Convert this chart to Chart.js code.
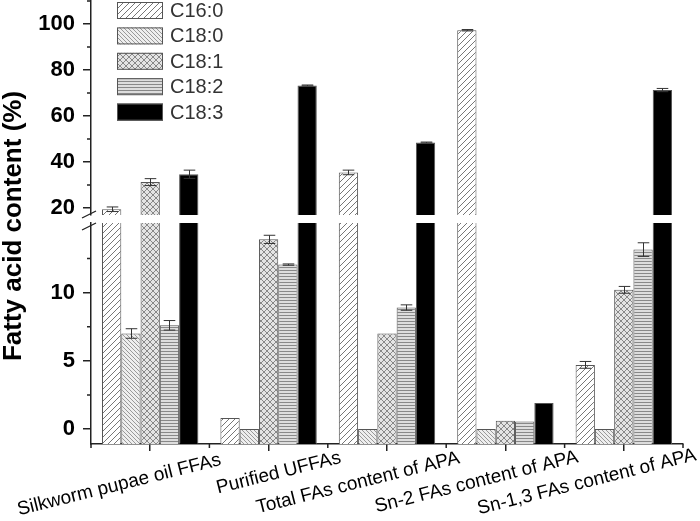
<!DOCTYPE html>
<html><head><meta charset="utf-8">
<script src="https://cdn.jsdelivr.net/npm/chart.js@4/dist/chart.umd.min.js"></script>
<style>html,body{margin:0;padding:0;background:#fff;} canvas{display:block;}</style>
</head><body>
<canvas id="c" width="700" height="521"></canvas>
<script>
// ---- data ----
const categories = ['Silkworm pupae oil FFAs','Purified UFFAs','Total FAs content of APA','Sn-2 FAs content of APA','Sn-1,3 FAs content of APA'];
const seriesNames = ['C16:0','C18:0','C18:1','C18:2','C18:3'];
const c160 = [19.5, 0.8, 35.5, 97.3, 4.7];
const c180 = [7.0, 0, 0, 0, 0];
const c181 = [31.3, 13.9, 7.0, 0.6, 10.2];
const c182 = [7.6, 12.05, 8.9, 0.55, 13.15];
const c183 = [34.7, 73.3, 48.5, 1.9, 71.3];
const c160Err = [1.0, 0, 1.0, 0.3, 0.25];
const c180Err = [0.35, 0, 0, 0, 0];
const c181Err = [1.5, 0.3, 0, 0, 0.25];
const c182Err = [0.35, 0.05, 0.2, 0, 0.5];
const c183Err = [1.8, 0.2, 0.2, 0, 0.7];
const yUpperTicks = [20, 40, 60, 80, 100];
const yUpperMinorTicks = [30, 50, 70, 90, 110];
const yLowerTicks = [0, 5, 10];
const yLowerMinorTicks = [2.5, 7.5, 12.5];
const yUpperRange = [17, 110];
const yLowerRange = [-1.1, 15.1];
const yTitle = 'Fatty acid content (%)';

const seriesData = [c160, c180, c181, c182, c183];
const seriesErr = [c160Err, c180Err, c181Err, c182Err, c183Err];

// ---- styles ----
const FONT = '"Liberation Sans", Arial, sans-serif';
Chart.defaults.font.family = FONT;
Chart.defaults.color = '#000';
const AXIS = '#222';

function makePattern(w, h, bg, draw) {
  const cv = document.createElement('canvas'); cv.width = w; cv.height = h;
  const g = cv.getContext('2d');
  g.fillStyle = bg; g.fillRect(0, 0, w, h);
  if (draw) draw(g, w, h);
  return g.createPattern(cv, 'repeat');
}
function diag(g, s, dir, color) {
  g.strokeStyle = color; g.lineWidth = 1; g.beginPath();
  for (let k = -1; k <= 1; k++) {
    if (dir === '/') { g.moveTo(k * s, s); g.lineTo(k * s + s, 0); }
    else { g.moveTo(k * s, 0); g.lineTo(k * s + s, s); }
  }
  g.stroke();
}
const fills = [
  makePattern(6, 6, '#ffffff', (g) => diag(g, 6, '/', '#777')),
  makePattern(4, 4, '#eeeeee', (g) => diag(g, 4, '\\', '#999')),
  makePattern(6, 6, '#e4e4e4', (g) => { diag(g, 6, '/', '#888'); diag(g, 6, '\\', '#888'); }),
  makePattern(4, 3, '#dddddd', (g) => { g.fillStyle = '#888'; g.fillRect(0, 0, 4, 1); }),
  '#000000'
];

const datasets = [];
seriesNames.forEach((name, s) => {
  ['yUpper', 'yLower'].forEach(axis => {
    datasets.push({
      label: name, data: seriesData[s], yAxisID: axis, stack: name,
      backgroundColor: fills[s], borderColor: '#555', borderWidth: 1,
      base: yLowerRange[0], categoryPercentage: 0.814, barPercentage: 1
    });
  });
});

function fixFit(s) {
  s.width = 64;
  s.paddingTop = 0; s.paddingBottom = 0; s.paddingLeft = 0; s.paddingRight = 0;
}

const clipPlugin = {
  id: 'segClip',
  beforeDatasetDraw(chart, args) {
    const ys = args.meta.yScale, ca = chart.chartArea, ctx = chart.ctx;
    ctx.save(); ctx.beginPath();
    ctx.rect(ca.left, ys.top, ca.right - ca.left, ys.bottom - ys.top);
    ctx.clip();
  },
  afterDatasetDraw(chart) { chart.ctx.restore(); }
};

const xLabelOffsets = [[-31, 41], [10, 29], [-29, 39], [-29, 38], [-37, 38]];
const xLabelAngle = 14;

const decoPlugin = {
  id: 'deco',
  afterDatasetsDraw(chart) {
    const ctx = chart.ctx, up = chart.scales.yUpper, lo = chart.scales.yLower;
    ctx.save();
    ctx.strokeStyle = '#333'; ctx.lineWidth = 1;
    seriesData.forEach((vals, s) => {
      vals.forEach((v, i) => {
        const e = seriesErr[s][i]; if (!e) return;
        const useUp = v >= yUpperRange[0];
        const sc = useUp ? up : lo;
        const bar = chart.getDatasetMeta(s * 2 + (useUp ? 0 : 1)).data[i];
        const x = Math.round(bar.x) + 0.5;
        const y1 = sc.getPixelForValue(v + e), y2 = sc.getPixelForValue(v - e);
        const cap = bar.width * 0.3;
        ctx.beginPath();
        ctx.moveTo(x, y1); ctx.lineTo(x, y2);
        ctx.moveTo(x - cap, y1); ctx.lineTo(x + cap, y1);
        ctx.moveTo(x - cap, y2); ctx.lineTo(x + cap, y2);
        ctx.stroke();
      });
    });
    ctx.restore();
  },
  afterDraw(chart) {
    const ctx = chart.ctx, ca = chart.chartArea;
    const up = chart.scales.yUpper, lo = chart.scales.yLower, xs = chart.scales.x;
    ctx.save();
    // minor y ticks
    ctx.strokeStyle = AXIS; ctx.lineWidth = 1.5;
    ctx.beginPath();
    yUpperMinorTicks.forEach(v => { const y = up.getPixelForValue(v); ctx.moveTo(ca.left - 4, y); ctx.lineTo(ca.left, y); });
    yLowerMinorTicks.forEach(v => { const y = lo.getPixelForValue(v); ctx.moveTo(ca.left - 4, y); ctx.lineTo(ca.left, y); });
    // x boundary ticks
    for (let i = 0; i <= categories.length; i++) {
      const x = xs.getPixelForValue(i - 0.5);
      ctx.moveTo(x, ca.bottom); ctx.lineTo(x, ca.bottom + 4);
    }
    ctx.stroke();
    // break marks
    ctx.lineWidth = 1.3;
    ctx.beginPath();
    ctx.moveTo(ca.left - 9, up.bottom + 3); ctx.lineTo(ca.left + 5, up.bottom - 4);
    ctx.moveTo(ca.left - 9, lo.top + 7); ctx.lineTo(ca.left + 5, lo.top);
    ctx.stroke();
    // x labels
    ctx.fillStyle = '#000';
    ctx.font = '19px ' + FONT;
    ctx.textAlign = 'center'; ctx.textBaseline = 'middle';
    categories.forEach((lab, i) => {
      const x = xs.getPixelForValue(i) + xLabelOffsets[i][0];
      const y = ca.bottom + xLabelOffsets[i][1];
      ctx.save(); ctx.translate(x, y); ctx.rotate(-xLabelAngle * Math.PI / 180);
      ctx.fillText(lab, 0, 0); ctx.restore();
    });
    // legend
    ctx.textAlign = 'left';
    ctx.font = '20px ' + FONT;
    seriesNames.forEach((name, s) => {
      const bx = ca.left + 26, by = ca.top + 1 + s * 25.4;
      ctx.fillStyle = fills[s]; ctx.fillRect(bx, by, 46, 17);
      ctx.strokeStyle = '#555'; ctx.lineWidth = 1; ctx.strokeRect(bx + 0.5, by + 0.5, 45, 16);
      ctx.fillStyle = '#333'; ctx.fillText(name, bx + 53, by + 9.5);
    });
    ctx.restore();
  }
};

const yCommon = {
  type: 'linear', position: 'left', stack: 'y', stacked: false,
  afterFit: fixFit,
  grid: { drawOnChartArea: false, drawTicks: true, tickLength: 8, color: AXIS, lineWidth: 1.5 },
  border: { display: true, color: AXIS, width: 1.5 },
  ticks: { font: { size: 22, weight: 'bold' }, color: '#000', padding: 8, autoSkip: false }
};

new Chart(document.getElementById('c'), {
  type: 'bar',
  data: { labels: categories, datasets },
  options: {
    responsive: false, animation: false, devicePixelRatio: 1,
    layout: { padding: { left: 0, top: 1, right: 17, bottom: 70 } },
    scales: {
      x: {
        type: 'category', offset: true,
        grid: { offset: false, drawOnChartArea: false, drawTicks: true, tickLength: 7, color: AXIS, lineWidth: 1.5 },
        border: { display: true, color: AXIS, width: 1.5 },
        ticks: { display: false }
      },
      yLower: Object.assign({}, yCommon, {
        stackWeight: 221, min: yLowerRange[0], max: yLowerRange[1],
        afterBuildTicks: s => { s.ticks = yLowerTicks.map(v => ({ value: v })); }
      }),
      yGap: {
        type: 'linear', position: 'left', stack: 'y', stackWeight: 8, afterFit: fixFit,
        grid: { display: false }, border: { display: false }, ticks: { display: false }
      },
      yUpper: Object.assign({}, yCommon, {
        stackWeight: 214, min: yUpperRange[0], max: yUpperRange[1],
        afterBuildTicks: s => { s.ticks = yUpperTicks.map(v => ({ value: v })); }
      })
    },
    plugins: {
      legend: { display: false },
      tooltip: { enabled: false },
      title: {
        display: true, text: yTitle, position: 'left', color: '#000',
        font: { size: 26, weight: 'bold', lineHeight: 1 }, padding: { top: 1, bottom: 0 }
      }
    }
  },
  plugins: [clipPlugin, decoPlugin]
});
</script>
</body></html>
